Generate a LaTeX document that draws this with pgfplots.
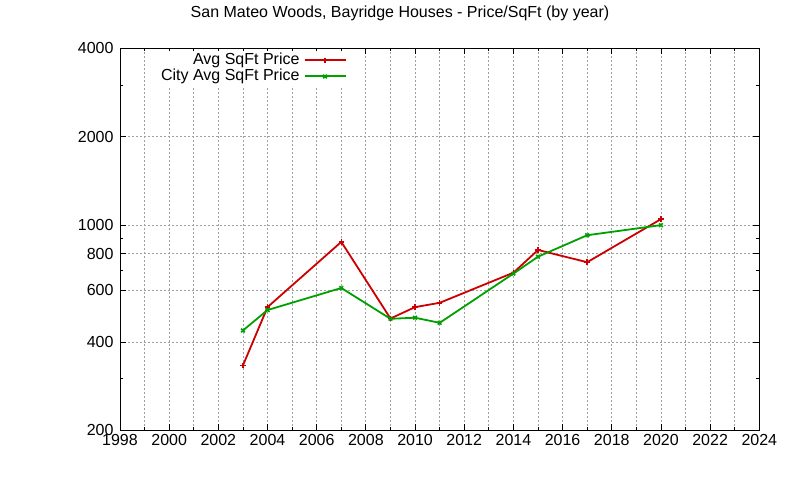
\documentclass[border=0pt]{standalone}
\usepackage{fontspec}
\setmainfont{Liberation Sans}
\usepackage{pgfplots}
\pgfplotsset{compat=1.18}
\definecolor{cred}{RGB}{204,0,0}
\definecolor{cgreen}{RGB}{0,160,0}
\definecolor{cgrid}{RGB}{160,160,160}
\begin{document}
\begin{tikzpicture}[x=1bp,y=1bp,font=\fontsize{16bp}{19bp}\selectfont]
\path[use as bounding box] (0,0) rectangle (800,480);
\node at (400,467) {San Mateo Woods, Bayridge Houses - Price/SqFt (by year)};
\begin{axis}[
  at={(120bp,49.5bp)}, anchor=south west, scale only axis,
  width=639.3bp, height=382.2bp,
  ymode=log, xmin=1998, xmax=2024, ymin=200, ymax=4000,
  xtick={1998,2000,...,2024},
  minor xtick={1999,2001,...,2023},
  ytick={200,400,600,800,1000,2000,4000},
  minor ytick={300,700,900,3000},
  log ticks with fixed point,
  /pgf/number format/1000 sep={},
  /pgf/number format/assume math mode=true,
  tick label style={font=\fontsize{16bp}{19bp}\selectfont},
  xticklabel style={/pgf/number format/1000 sep={},yshift=-0.5bp},
  yticklabel style={xshift=-3bp},
  xmajorgrids=true, xminorgrids=true, ymajorgrids=true, yminorgrids=false,
  grid style={dash pattern=on 2bp off 2bp, color=cgrid, line width=0.8bp},
  minor grid style={dash pattern=on 2bp off 2bp, color=cgrid, line width=0.8bp},
  major grid style={dash pattern=on 2bp off 2bp, color=cgrid, line width=0.8bp},
  tick pos=both, tick align=inside,
  major tick length=6bp, minor tick length=3bp,
  tick style={black, line width=0.8bp},
  axis line style={line width=1bp},
  legend plot pos=right,
  legend cell align=right,
  legend image code/.code={\draw[#1, line width=2bp, mark repeat=2, mark phase=2] plot coordinates {(0bp,0bp) (20.5bp,0bp) (41bp,0bp)};},
  legend style={at={(0.364,0.9935)}, anchor=north east, draw=none, fill=white,
    font=\fontsize{16bp}{19bp}\selectfont, row sep=0bp, inner xsep=6bp, inner ysep=1.5bp,
    nodes={inner xsep=4bp, inner ysep=0.5bp, text height=11.5bp, text depth=3.5bp}},
]
\addplot[color=cred, line width=1.8bp, mark=+, mark size=2.8bp, mark options={line width=1.6bp}]
  coordinates {(2003,333) (2004,526) (2007,877) (2009,481) (2010,526) (2011,544) (2014,689) (2015,823) (2017,748) (2020,1048)};
\addlegendentry{Avg SqFt Price}
\addplot[color=cgreen, line width=1.8bp, mark=x, mark size=2.6bp, mark options={line width=1.6bp}]
  coordinates {(2003,438) (2004,514) (2007,611) (2009,480) (2010,484) (2011,465) (2014,684) (2015,781) (2017,924) (2020,1000)};
\addlegendentry{City Avg SqFt Price}
\end{axis}
\end{tikzpicture}
\end{document}
